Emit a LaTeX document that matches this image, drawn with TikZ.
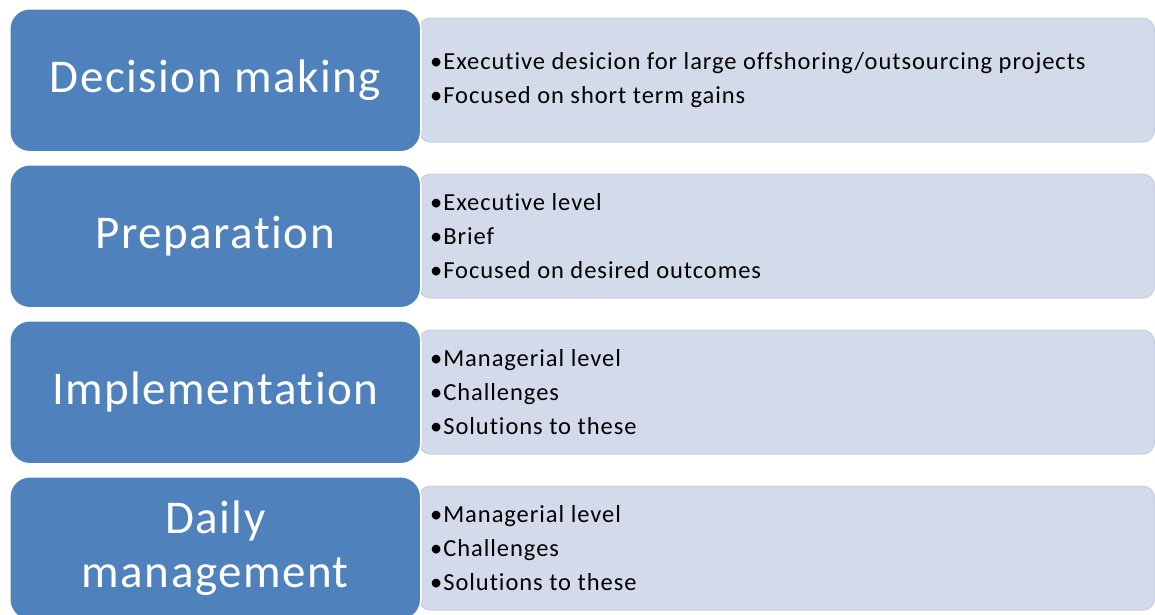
\documentclass[tikz,border=0pt]{standalone}
\usepackage{fontspec}
\setmainfont[Ligatures=NoCommon]{Carlito}
\newfontfamily\mainfam[Ligatures=NoCommon,LetterSpace=3.2]{Carlito}
\newfontfamily\detailfam[Ligatures=NoCommon,LetterSpace=3.9]{Carlito}
\definecolor{myblue}{HTML}{4F81BD}
\definecolor{mylight}{HTML}{D3DBEA}
\definecolor{mylightedge}{HTML}{C9D2E4}
\tikzset{
  mainbox/.style={fill=myblue, draw=white, line width=1.5pt, rounded corners=20pt,
    minimum width=411pt, minimum height=143pt, anchor=north west, inner sep=0pt,
    text=white, align=center, font=\mainfam\fontsize{47}{54}\selectfont},
  detailbox/.style={fill=mylight, draw=mylightedge, line width=1.2pt, rounded corners=12pt,
    minimum width=736pt, minimum height=124pt, anchor=north west, inner sep=0pt},
  detailtext/.style={anchor=west, align=left, inner sep=0pt, text=black,
    font=\detailfam\fontsize{24.5}{34}\selectfont}
}
\begin{document}
\begin{tikzpicture}[x=1pt,y=-1pt]
\useasboundingbox (0,0) rectangle (1155,614);
% detail boxes
\node[detailbox] (d1) at (418,17.5) {};
\node[detailbox] (d2) at (418,173.5) {};
\node[detailbox] (d3) at (418,329.5) {};
\node[detailbox] (d4) at (418,485.5) {};
% main boxes
\node[mainbox] (m1) at (9,8) {Decision making};
\node[mainbox] (m2) at (9,164) {Preparation};
\node[mainbox] (m3) at (9,320) {Implementation};
\node[mainbox] (m4) at (9,476) {Daily\\management};
% texts
\node[detailtext] (t1) at (430,80) {•Executive desicion for large offshoring/outsourcing projects\\•Focused on short term gains};
\node[detailtext] (t2) at (430,236) {•Executive level\\•Brief\\•Focused on desired outcomes};
\node[detailtext] (t3) at (430,392) {•Managerial level\\•Challenges\\•Solutions to these};
\node[detailtext] (t4) at (430,548) {•Managerial level\\•Challenges\\•Solutions to these};
\end{tikzpicture}
\end{document}
